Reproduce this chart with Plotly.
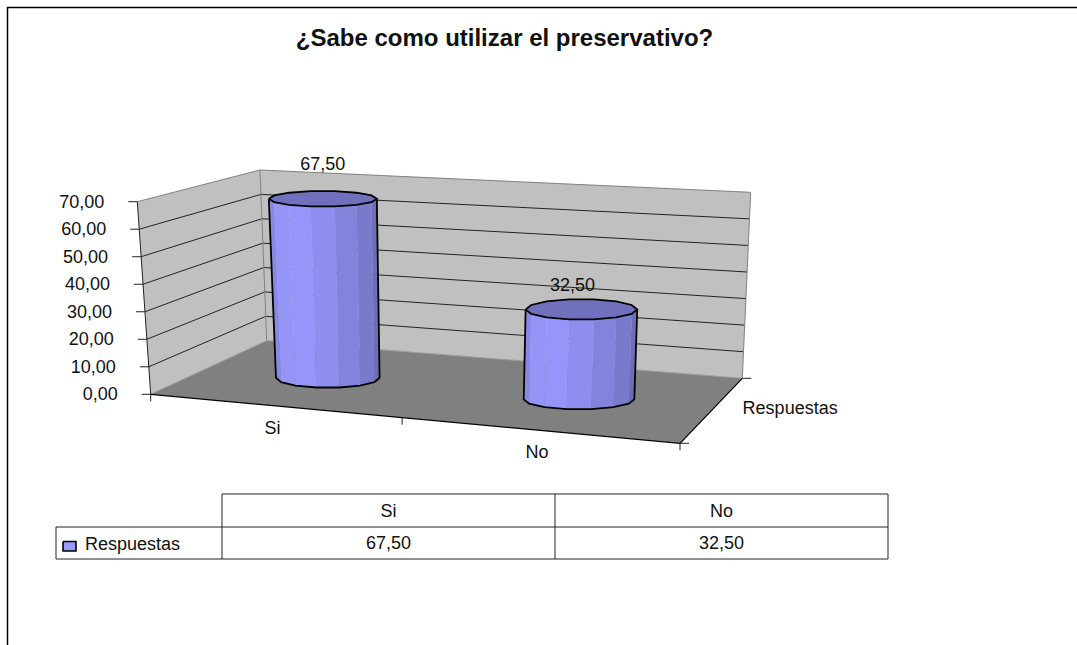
import math
import plotly.graph_objects as go

# Chart content
TITLE = "¿Sabe como utilizar el preservativo?"
SERIES_NAME = "Respuestas"
CATEGORIES = ["Si", "No"]
VALUES = [67.5, 32.5]
VALUE_TICKS = [0, 10, 20, 30, 40, 50, 60, 70]
VALUE_MAX = 70

# Colours
WALL = "#C0C0C0"
FLOOR = "#808080"
EDGE = "#808080"
INK = "#000000"
TEXT = "#111111"
TOP_FACE = "#7070BC"
KEY_FILL = "#9999FF"
FACET_SHADES = ["#8888E6", "#9595F8", "#9696FA", "#8E8EEE", "#8383DC", "#7A7ACC", "#6E6EB8"]
FONT = "Liberation Sans"

# Page-space corners of the 3D box: (category, depth) -> (floor point, point at VALUE_MAX)
CORNERS = {
    (0, 0): ((150.7, 394.3), (137.3, 201.7)),
    (0, 1): ((266.7, 340.7), (260.0, 170.0)),
    (1, 1): ((742.3, 378.3), (750.7, 192.3)),
    (1, 0): ((680.0, 443.3), (693.0, 233.0)),
}

# Position along the category axis, depth, and (rx, ry) at the foot and at the top of each cylinder
CATEGORY_POS = [0.237, 0.737]
BAR_DEPTH = 0.5
RADII = [((51.8, 10.0), (54.0, 7.8)), ((55.3, 10.0), (55.8, 10.3))]
FACETS = 14
# Shift of each value label from the centre of its cylinder's top
VALUE_LABEL_SHIFT = [(0, -35), (-9, -24)]


def project(u, d, v):
    """Trilinear map from (category position, depth, value) to page pixels."""
    out = []
    for axis in (0, 1):
        level = v / VALUE_MAX
        c = {k: p[0][axis] + (p[1][axis] - p[0][axis]) * level for k, p in CORNERS.items()}
        front = c[(0, 0)] + (c[(1, 0)] - c[(0, 0)]) * u
        back = c[(0, 1)] + (c[(1, 1)] - c[(0, 1)]) * u
        out.append(front + (back - front) * d)
    return tuple(out)


def comma(v):
    return f"{v:.2f}".replace(".", ",")


fig = go.Figure()


def poly(points, fill=None, color=None, width=1.0):
    xs = [p[0] for p in points]
    ys = [p[1] for p in points]
    trace = dict(x=xs, y=ys, mode="lines", hoverinfo="skip", showlegend=False)
    if fill:
        trace.update(fill="toself", fillcolor=fill)
    trace["line"] = dict(color=color, width=width) if color else dict(width=0)
    fig.add_trace(go.Scatter(**trace))


def label(x, y, text, size=18, pos="middle center", bold=False):
    # Browser text sits slightly high of its anchor, so nudge it down
    fig.add_trace(go.Scatter(
        x=[x], y=[y + 1.5], mode="text", text=[f"<b>{text}</b>" if bold else text],
        textposition=pos, hoverinfo="skip", showlegend=False,
        textfont=dict(family=FONT, size=size, color=TEXT)))


# Walls
poly([project(0, 0, 0), project(0, 1, 0), project(0, 1, VALUE_MAX), project(0, 0, VALUE_MAX)], fill=WALL)
poly([project(0, 1, 0), project(1, 1, 0), project(1, 1, VALUE_MAX), project(0, 1, VALUE_MAX)], fill=WALL)

# Gridlines across both walls
for v in VALUE_TICKS[1:]:
    color = EDGE if v == VALUE_MAX else "#222222"
    poly([project(0, 0, v), project(0, 1, v), project(1, 1, v)], color=color, width=1)
poly([project(0, 1, 0), project(0, 1, VALUE_MAX)], color=EDGE, width=1)
poly([project(1, 1, 0), project(1, 1, VALUE_MAX)], color=EDGE, width=1)

# Floor
poly([project(0, 0, 0), project(1, 0, 0), project(1, 1, 0), project(0, 1, 0), project(0, 0, 0)], fill=FLOOR)
poly([project(0, 0, 0), project(0, 1, 0), project(1, 1, 0)], color="#9A9A9A", width=1)

# Cylinders
for pos, value, (foot_r, top_r) in zip(CATEGORY_POS, VALUES, RADII):
    bx, by = project(pos, BAR_DEPTH, 0)
    tx, ty = project(pos, BAR_DEPTH, value)

    def ring(cx, cy, r, k):
        a = 2 * math.pi * k / FACETS
        return (cx - r[0] * math.cos(a), cy + r[1] * math.sin(a))

    half = FACETS // 2
    # Side facets run around the front half, left to right
    for k in range(half):
        poly([ring(tx, ty, top_r, k), ring(tx, ty, top_r, k + 1),
              ring(bx, by, foot_r, k + 1), ring(bx, by, foot_r, k)], fill=FACET_SHADES[k])
    # Outline of the side and the foot
    outline = [ring(tx, ty, top_r, 0)] + [ring(bx, by, foot_r, k) for k in range(half + 1)] + [ring(tx, ty, top_r, half)]
    poly(outline, color=INK, width=1.8)
    # Top face
    top = [ring(tx, ty, top_r, k) for k in range(FACETS + 1)]
    poly(top, fill=TOP_FACE, color=INK, width=1.8)

# Axes in front of the box
poly([project(0, 0, 0), project(0, 0, VALUE_MAX)], color="#222222", width=1)
poly([project(0, 0, 0), project(1, 0, 0), project(1, 1, 0)], color=INK, width=1.2)

for v in VALUE_TICKS:
    x, y = project(0, 0, v)
    poly([(x - 9, y), (x, y)], color="#222222", width=1)
    label(x - 33, y, comma(v), pos="middle left")

for u in (0, 0.475, 1):
    x, y = project(u, 0, 0)
    poly([(x, y), (x, y + 7)], color="#222222", width=1)
poly([project(1, 0, 0), (project(1, 0, 0)[0] + 9, project(1, 0, 0)[1])], color="#222222", width=1)
poly([project(1, 1, 0), (project(1, 1, 0)[0] + 9, project(1, 1, 0)[1])], color="#222222", width=1)

# Category and series labels on the box
for u, name in zip((0.23, 0.73), CATEGORIES):
    x, y = project(u, 0, 0)
    label(x, y + 22, name)
rx, ry = project(1, 0.5, 0)
label(rx + 79, ry - 3, SERIES_NAME)

# Value labels above each cylinder
for pos, value, (dx, dy) in zip(CATEGORY_POS, VALUES, VALUE_LABEL_SHIFT):
    tx, ty = project(pos, BAR_DEPTH, value)
    label(tx + dx, ty + dy, comma(value))

# Data table under the plot
COL_X = [56, 222, 555, 888]
ROW_Y = [494, 527, 559]
poly([(COL_X[1], ROW_Y[0]), (COL_X[3], ROW_Y[0]), (COL_X[3], ROW_Y[2]), (COL_X[0], ROW_Y[2]),
      (COL_X[0], ROW_Y[1]), (COL_X[3], ROW_Y[1])], color="#222222", width=1)
poly([(COL_X[1], ROW_Y[0]), (COL_X[1], ROW_Y[2])], color="#222222", width=1)
poly([(COL_X[2], ROW_Y[0]), (COL_X[2], ROW_Y[2])], color="#222222", width=1)
for i, (name, value) in enumerate(zip(CATEGORIES, VALUES)):
    cx = (COL_X[i + 1] + COL_X[i + 2]) / 2
    label(cx, (ROW_Y[0] + ROW_Y[1]) / 2, name)
    label(cx, (ROW_Y[1] + ROW_Y[2]) / 2, comma(value))
poly([(63, 541.5), (76, 541.5), (76, 551), (63, 551), (63, 541.5)], fill=KEY_FILL, color=INK, width=1.6)
label(85, 544, SERIES_NAME, pos="middle right")

# Title
label(504.5, 38.5, TITLE, size=24, bold=True)

# Chart frame: only the top and left edges fall inside the page
poly([(7.5, 645), (7.5, 7.5), (1077, 7.5)], color=INK, width=1.5)

fig.update_layout(
    width=1077, height=645, margin=dict(l=0, r=0, t=0, b=0),
    paper_bgcolor="white", plot_bgcolor="white", showlegend=False,
    xaxis=dict(range=[0, 1077], visible=False, fixedrange=True),
    yaxis=dict(range=[645, 0], visible=False, fixedrange=True),
)
fig.write_html("out.html", config={"displayModeBar": False})
